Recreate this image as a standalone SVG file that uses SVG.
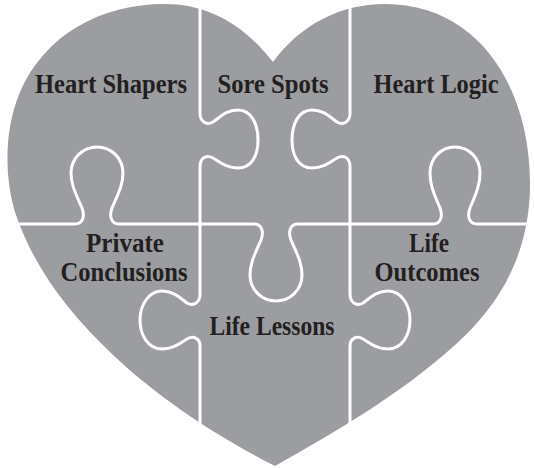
<svg xmlns="http://www.w3.org/2000/svg" width="534" height="468" viewBox="0 0 534 468">
<style>
.heart{fill:#9c9da1;}
.edge{fill:none;stroke:#ffffff;stroke-width:3;stroke-linejoin:round;}
.lbl{font-family:"Liberation Serif","Times New Roman",serif;font-weight:bold;font-size:28px;fill:#231f20;text-anchor:middle;}
</style>
<rect width="534" height="468" fill="#ffffff"/>
<path class="heart" d="M275,466 C222,439 160,400 112,354 C70,314 35,270 16,215 C4,178 4,130 20,92 C45,35 100,4 165,4 C205,4 242,22 273,62 C300,25 340,4 385,4 C480,4 532,90 530,190 C528,250 505,300 455,345 C400,395 330,435 275,466 Z"/>
<g id="connectors">
<path class="edge" d="M200,-5 V113 C200,121 206,126 213,122 C220,117 226,110 238,110 C252,110 258,125 258,140 C258,155 252,168 238,168 C226,168 220,162 213,158 C206,154 200,158 200,167 V294 C200,302 194,307 187,303 C180,298 174,291 162,291 C148,291 140,306 140,320 C140,335 148,349 162,349 C174,349 180,343 187,339 C194,335 200,339 200,346 V470"/>
<path class="edge" d="M350,-5 V113 C350,121 344,126 337,122 C330,117 324,110 312,110 C298,110 292,125 292,140 C292,155 298,168 312,168 C324,168 330,162 337,158 C344,154 350,158 350,167 V294 C350,302 356,307 363,303 C370,298 376,291 388,291 C402,291 410,306 410,320 C410,335 402,349 388,349 C376,349 370,343 363,339 C356,335 350,339 350,346 V470"/>
<path class="edge" d="M-5,224 H75 C83,224 85,216 82,208 C77,196 71,186 71,173 C71,158 83,147 97,147 C111,147 123,158 123,173 C123,186 117,196 112,208 C109,216 111,224 119,224 H254 C262,224 264,232 261,240 C256,252 250,262 250,275 C250,290 262,301 276,301 C290,301 302,290 302,275 C302,262 296,252 291,240 C288,232 290,224 298,224 H433 C441,224 443,216 440,208 C435,196 430,186 430,173 C430,158 441,147 455,147 C469,147 480,158 480,173 C480,186 475,196 470,208 C467,216 469,224 477,224 H540"/>
</g>
<g id="heart-shapers"><text class="lbl" x="111" y="93" textLength="152" lengthAdjust="spacingAndGlyphs">Heart Shapers</text></g>
<g id="sore-spots"><text class="lbl" x="273" y="93" textLength="111" lengthAdjust="spacingAndGlyphs">Sore Spots</text></g>
<g id="heart-logic"><text class="lbl" x="436" y="93" textLength="125" lengthAdjust="spacingAndGlyphs">Heart Logic</text></g>
<g id="private-conclusions"><text class="lbl" x="125" y="252" textLength="78" lengthAdjust="spacingAndGlyphs">Private</text><text class="lbl" x="124" y="281" textLength="127" lengthAdjust="spacingAndGlyphs">Conclusions</text></g>
<g id="life-lessons"><text class="lbl" x="272" y="335" textLength="125" lengthAdjust="spacingAndGlyphs">Life Lessons</text></g>
<g id="life-outcomes"><text class="lbl" x="429" y="252" textLength="40" lengthAdjust="spacingAndGlyphs">Life</text><text class="lbl" x="427" y="281" textLength="105" lengthAdjust="spacingAndGlyphs">Outcomes</text></g>
</svg>
